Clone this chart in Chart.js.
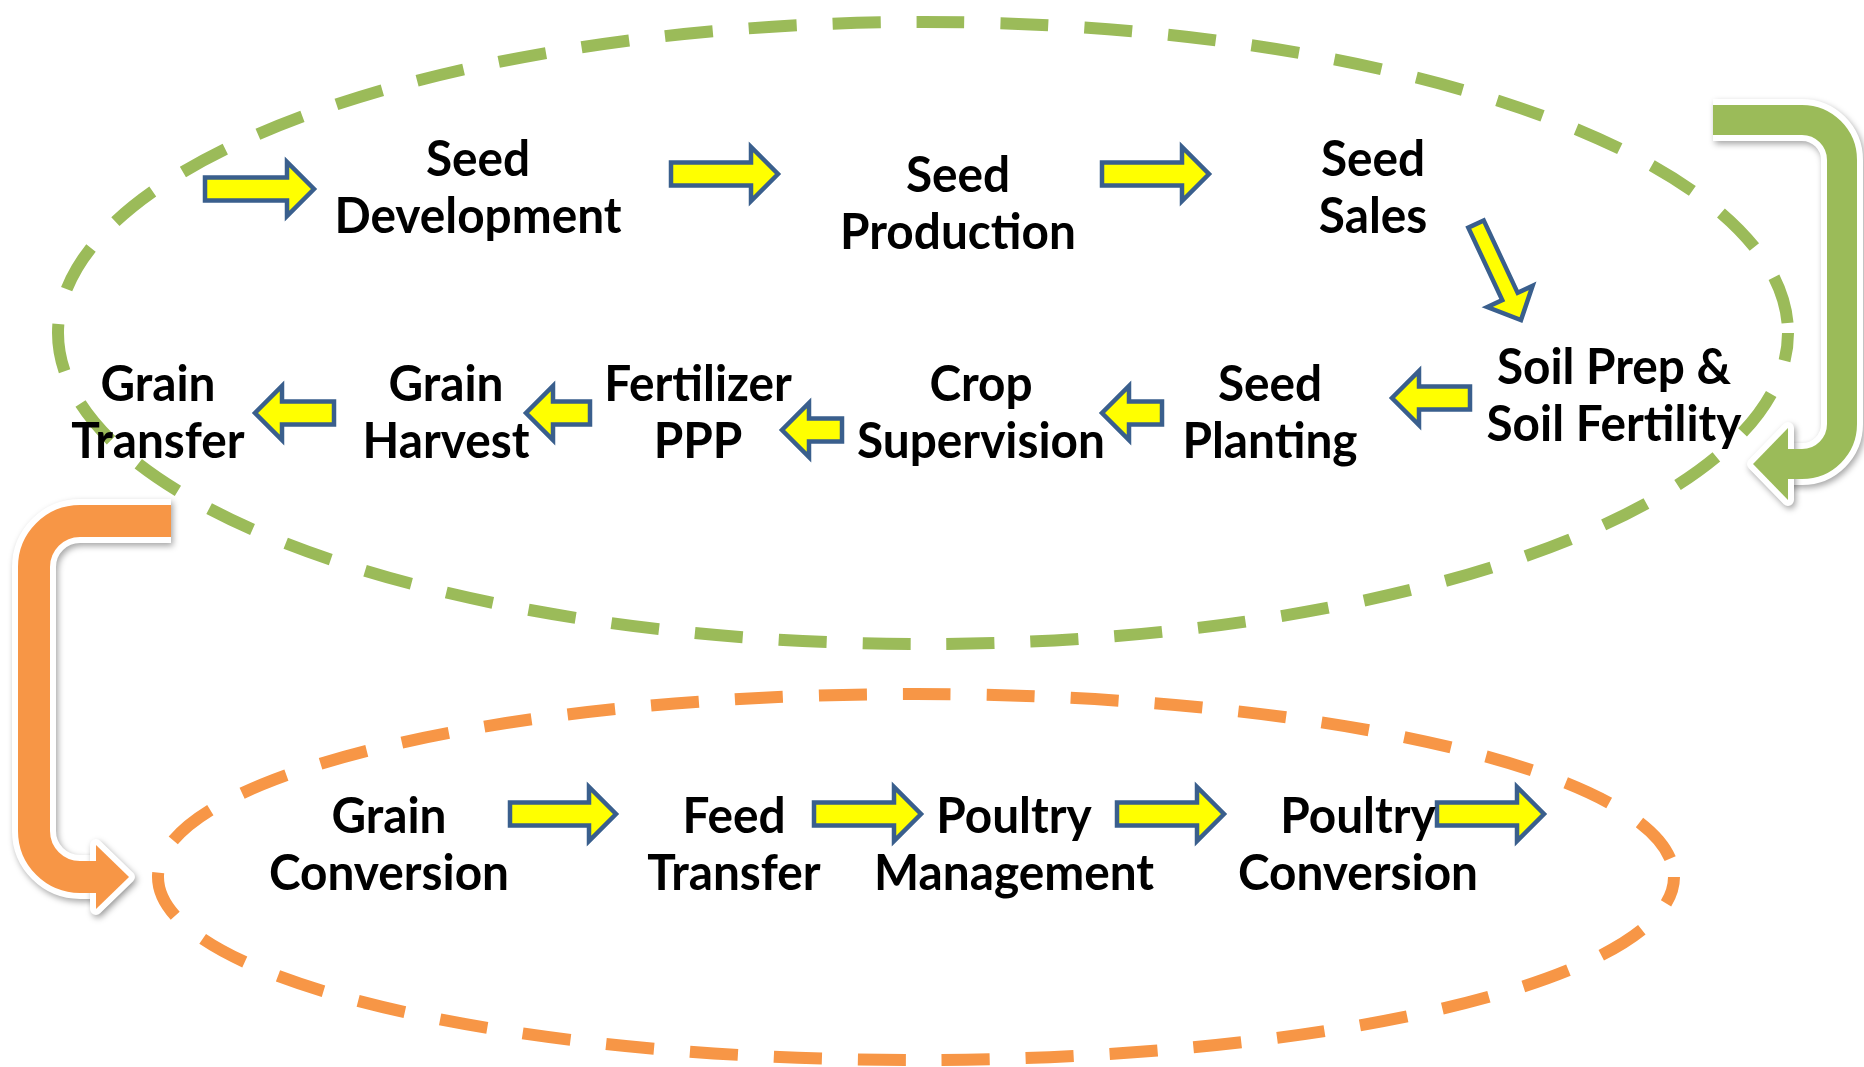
<!DOCTYPE html>
<html>
<head>
<meta charset="utf-8">
<script src="https://cdn.jsdelivr.net/npm/chart.js@4.4.1/dist/chart.umd.min.js"></script>
<style>
  html, body { margin: 0; padding: 0; background: #ffffff; }
  #flow { display: block; }
</style>
</head>
<body>
<canvas id="flow" width="1864" height="1067"></canvas>
<script>
// value chain steps, placed on the diagram's own 1864 x 1067 grid
const stepNames = [
  ['Seed', 'Development'], ['Seed', 'Production'], ['Seed', 'Sales'],
  ['Soil Prep &', 'Soil Fertility'], ['Seed', 'Planting'], ['Crop', 'Supervision'],
  ['Fertilizer', 'PPP'], ['Grain', 'Harvest'], ['Grain', 'Transfer'],
  ['Grain', 'Conversion'], ['Feed', 'Transfer'], ['Poultry', 'Management'], ['Poultry', 'Conversion']
];
const stepX = [478, 958, 1373, 1614, 1270, 981, 698, 446, 158, 389, 734, 1014, 1358];
const stepY = [186, 202, 186, 394, 411, 411, 411, 411, 411, 843, 843, 843, 843];

// small block arrows, tail -> tip
const flowTailX = [205, 671, 1102, 1476, 1470, 1162, 842, 590, 334, 510, 814, 1117, 1437];
const flowTailY = [189, 174, 174, 224, 398, 413, 430, 413, 413, 814, 814, 814, 814];
const flowTipX  = [314, 778, 1209, 1521, 1392, 1102, 782, 526, 255, 616, 921, 1224, 1544];
const flowTipY  = [189, 174, 174, 320, 398, 413, 430, 413, 413, 814, 814, 814, 814];

// the two dashed loops: crop chain and poultry chain
const loopX  = [923, 916];
const loopY  = [333, 877];
const loopRX = [865, 758];
const loopRY = [311, 183];
const loopColors = ['#9BBB59', '#F79646'];

// the big return arrows that hand over from one loop to the next
const returnX = [[1713, 1842, 1842, 1788], [171, 34, 34, 96]];
const returnY = [[120, 120, 464, 464], [521, 521, 877, 877]];

const ARROW_FILL = '#FFFF00';
const ARROW_LINE = '#3A5F8D';

function blockArrow(ctx, x0, y0, x1, y1, shaft, head, headLen) {
  const len = Math.hypot(x1 - x0, y1 - y0);
  const ang = Math.atan2(y1 - y0, x1 - x0);
  ctx.save();
  ctx.translate(x0, y0);
  ctx.rotate(ang);
  ctx.beginPath();
  ctx.moveTo(0, -shaft);
  ctx.lineTo(len - headLen, -shaft);
  ctx.lineTo(len - headLen, -head);
  ctx.lineTo(len, 0);
  ctx.lineTo(len - headLen, head);
  ctx.lineTo(len - headLen, shaft);
  ctx.lineTo(0, shaft);
  ctx.closePath();
  ctx.fillStyle = ARROW_FILL;
  ctx.fill();
  ctx.lineWidth = 4.5;
  ctx.lineJoin = 'miter';
  ctx.strokeStyle = ARROW_LINE;
  ctx.stroke();
  ctx.restore();
}

function bentPath(ctx, pts, radius) {
  ctx.beginPath();
  ctx.moveTo(pts[0][0], pts[0][1]);
  for (let i = 1; i < pts.length - 1; i++) {
    ctx.arcTo(pts[i][0], pts[i][1], pts[i + 1][0], pts[i + 1][1], radius);
  }
  ctx.lineTo(pts[pts.length - 1][0], pts[pts.length - 1][1]);
}

function headPath(ctx, pts, half, len) {
  const a = pts[pts.length - 2], b = pts[pts.length - 1];
  const d = Math.hypot(b[0] - a[0], b[1] - a[1]);
  const ux = (b[0] - a[0]) / d, uy = (b[1] - a[1]) / d;
  ctx.beginPath();
  ctx.moveTo(b[0] - uy * half, b[1] + ux * half);
  ctx.lineTo(b[0] + ux * len, b[1] + uy * len);
  ctx.lineTo(b[0] + uy * half, b[1] - ux * half);
  ctx.closePath();
}

const flowDecor = {
  id: 'flowDecor',
  beforeDatasetsDraw(chart) {
    const ctx = chart.ctx;
    const sx = chart.scales.x, sy = chart.scales.y;

    // dashed loops
    loopX.forEach((cx, i) => {
      const px = sx.getPixelForValue(cx), py = sy.getPixelForValue(loopY[i]);
      const rx = Math.abs(sx.getPixelForValue(cx + loopRX[i]) - px);
      const ry = Math.abs(sy.getPixelForValue(loopY[i] + loopRY[i]) - py);
      ctx.save();
      ctx.beginPath();
      ctx.ellipse(px, py, rx, ry, 0, 0, Math.PI * 2);
      ctx.setLineDash([48, 36]);
      ctx.lineDashOffset = 20;
      ctx.lineWidth = 12;
      ctx.strokeStyle = loopColors[i];
      ctx.stroke();
      ctx.restore();
    });

    // return arrows with white rim and soft shadow
    const bands = [30, 32], heads = [36, 32], headLens = [35, 33], radii = [40, 46];
    returnX.forEach((xs, i) => {
      const pts = xs.map((x, j) => [sx.getPixelForValue(x), sy.getPixelForValue(returnY[i][j])]);
      ctx.save();
      ctx.shadowColor = 'rgba(0,0,0,0.35)';
      ctx.shadowBlur = 6;
      ctx.shadowOffsetX = 2;
      ctx.shadowOffsetY = 3;
      ctx.strokeStyle = '#ffffff';
      ctx.fillStyle = '#ffffff';
      ctx.lineJoin = 'round';
      ctx.lineWidth = bands[i] + 12;
      bentPath(ctx, pts, radii[i]);
      ctx.stroke();
      headPath(ctx, pts, heads[i], headLens[i]);
      ctx.lineWidth = 12;
      ctx.fill();
      ctx.stroke();
      ctx.restore();

      ctx.save();
      ctx.strokeStyle = loopColors[i];
      ctx.fillStyle = loopColors[i];
      ctx.lineWidth = bands[i];
      bentPath(ctx, pts, radii[i]);
      ctx.stroke();
      headPath(ctx, pts, heads[i], headLens[i]);
      ctx.fill();
      ctx.restore();
    });

    // small yellow step arrows
    flowTailX.forEach((x, i) => {
      const diag = flowTailY[i] !== flowTipY[i];
      blockArrow(ctx,
        sx.getPixelForValue(x), sy.getPixelForValue(flowTailY[i]),
        sx.getPixelForValue(flowTipX[i]), sy.getPixelForValue(flowTipY[i]),
        diag ? 8.5 : 11.5, diag ? 25 : 27, diag ? 26 : 27);
    });
  },
  afterDatasetsDraw(chart) {
    const ctx = chart.ctx;
    const meta = chart.getDatasetMeta(0);
    ctx.save();
    ctx.font = 'bold 50px Lato';
    ctx.fillStyle = '#000000';
    ctx.textAlign = 'center';
    ctx.textBaseline = 'alphabetic';
    meta.data.forEach((pt, i) => {
      const lines = stepNames[i];
      lines.forEach((txt, j) => {
        const lineY = pt.y + (j - (lines.length - 1) / 2) * 57;
        ctx.save();
        ctx.translate(pt.x, lineY + 18);
        ctx.scale(0.955, 1);
        ctx.fillText(txt, 0, 0);
        ctx.restore();
      });
    });
    ctx.restore();
  }
};

new Chart(document.getElementById('flow'), {
  type: 'scatter',
  data: {
    datasets: [{
      label: 'Steps',
      data: stepX.map((x, i) => ({ x: x, y: stepY[i] })),
      pointRadius: 0,
      pointHoverRadius: 0
    }]
  },
  options: {
    responsive: false,
    animation: false,
    events: [],
    layout: { padding: 0 },
    plugins: { legend: { display: false }, tooltip: { enabled: false } },
    scales: {
      x: { type: 'linear', min: 0, max: 1864, display: false },
      y: { type: 'linear', min: 0, max: 1067, reverse: true, display: false }
    }
  },
  plugins: [flowDecor]
});
</script>
</body>
</html>
